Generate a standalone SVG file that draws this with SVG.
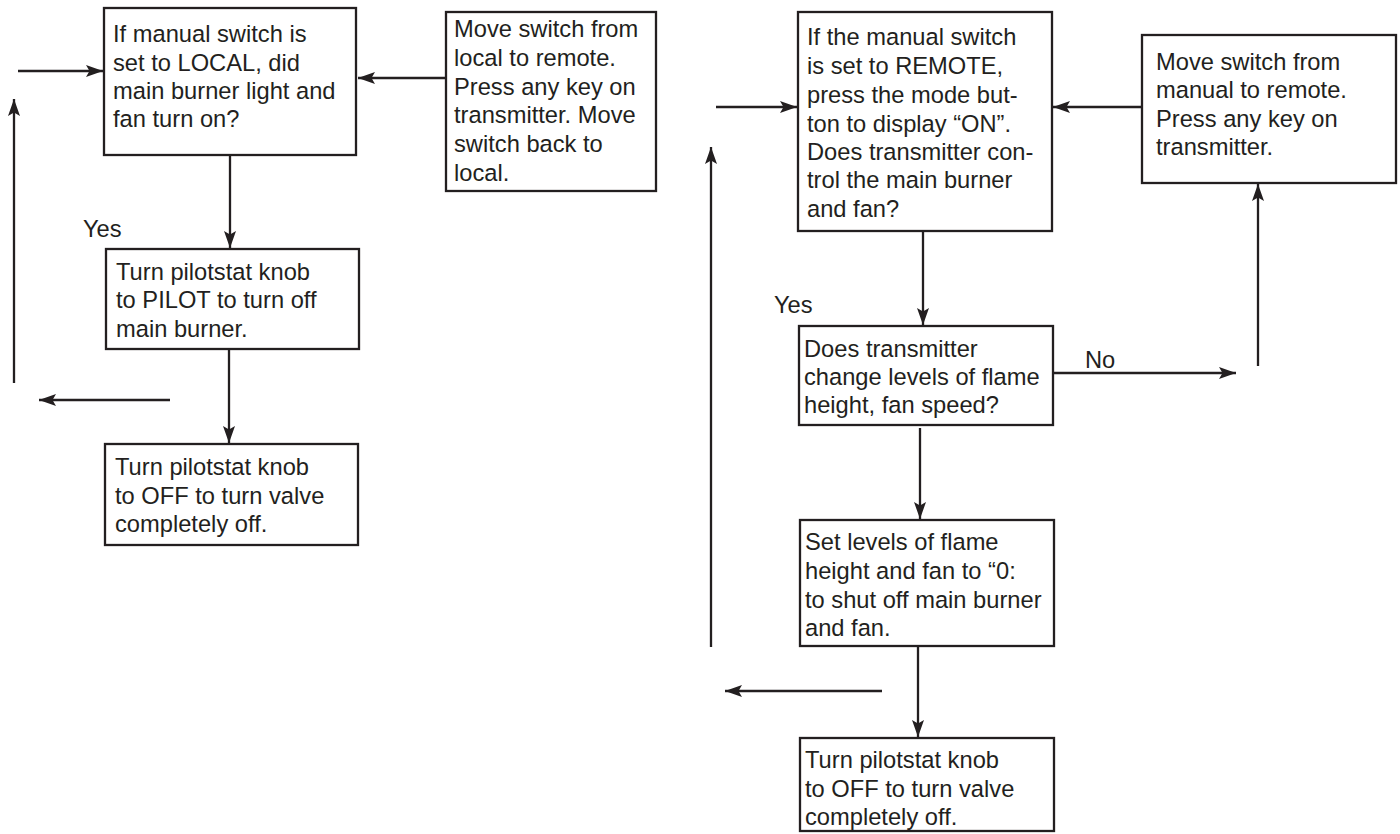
<svg xmlns="http://www.w3.org/2000/svg" width="1400" height="834" viewBox="0 0 1400 834">
<style>
.box{fill:#fff;stroke:#231f20;stroke-width:2.3}
.t{font-family:"Liberation Sans",Arial,sans-serif;font-size:23.7px;fill:#231f20}
.c{stroke:#231f20;stroke-width:2.3;fill:none}
</style>
<defs>
<marker id="ah" viewBox="0 0 17 12" refX="17" refY="6" markerWidth="17" markerHeight="12" markerUnits="userSpaceOnUse" orient="auto">
<path d="M0,0 L17,6 L0,12 L3.5,6 Z" fill="#231f20"/>
</marker>
</defs>
<rect width="1400" height="834" fill="#fff"/>
<g id="connectors">
<line class="c" x1="18" y1="71" x2="103" y2="71" marker-end="url(#ah)"/>
<line class="c" x1="445" y1="78" x2="358" y2="78" marker-end="url(#ah)"/>
<line class="c" x1="14" y1="383" x2="14" y2="99" marker-end="url(#ah)"/>
<line class="c" x1="230" y1="155" x2="230" y2="248" marker-end="url(#ah)"/>
<line class="c" x1="229" y1="349" x2="229" y2="443" marker-end="url(#ah)"/>
<line class="c" x1="170" y1="400" x2="39" y2="400" marker-end="url(#ah)"/>
<line class="c" x1="716" y1="107" x2="797" y2="107" marker-end="url(#ah)"/>
<line class="c" x1="1142" y1="107" x2="1053" y2="107" marker-end="url(#ah)"/>
<line class="c" x1="711" y1="647" x2="711" y2="147" marker-end="url(#ah)"/>
<line class="c" x1="923" y1="231" x2="923" y2="325" marker-end="url(#ah)"/>
<line class="c" x1="1054" y1="373" x2="1236" y2="373" marker-end="url(#ah)"/>
<line class="c" x1="1258" y1="366" x2="1258" y2="184" marker-end="url(#ah)"/>
<line class="c" x1="920" y1="428" x2="920" y2="519" marker-end="url(#ah)"/>
<line class="c" x1="882" y1="691" x2="725" y2="691" marker-end="url(#ah)"/>
<line class="c" x1="918" y1="646" x2="918" y2="737" marker-end="url(#ah)"/>
<text class="t" x="83" y="237">Yes</text>
<text class="t" x="774" y="313">Yes</text>
<text class="t" x="1085" y="368">No</text>
</g>
<g id="nodeA">
<rect class="box" x="104" y="8" width="252" height="147"/>
<text class="t" x="113" y="42">If manual switch is</text>
<text class="t" x="113" y="71">set to LOCAL, did</text>
<text class="t" x="113" y="99">main burner light and</text>
<text class="t" x="113" y="127">fan turn on?</text>
</g>
<g id="nodeB">
<rect class="box" x="446" y="12" width="210" height="179"/>
<text class="t" x="454" y="37">Move switch from</text>
<text class="t" x="454" y="66">local to remote.</text>
<text class="t" x="454" y="95">Press any key on</text>
<text class="t" x="454" y="123">transmitter. Move</text>
<text class="t" x="454" y="152">switch back to</text>
<text class="t" x="454" y="181">local.</text>
</g>
<g id="nodeC">
<rect class="box" x="106" y="249" width="253" height="100"/>
<text class="t" x="116" y="280">Turn pilotstat knob</text>
<text class="t" x="116" y="308">to PILOT to turn off</text>
<text class="t" x="116" y="337">main burner.</text>
</g>
<g id="nodeD">
<rect class="box" x="105" y="444" width="253" height="101"/>
<text class="t" x="115" y="475">Turn pilotstat knob</text>
<text class="t" x="115" y="504">to OFF to turn valve</text>
<text class="t" x="115" y="532">completely off.</text>
</g>
<g id="nodeE">
<rect class="box" x="798" y="12" width="254" height="219"/>
<text class="t" x="807" y="45">If the manual switch</text>
<text class="t" x="807" y="74">is set to REMOTE,</text>
<text class="t" x="807" y="103">press the mode but-</text>
<text class="t" x="807" y="132">ton to display “ON”.</text>
<text class="t" x="807" y="160">Does transmitter con-</text>
<text class="t" x="807" y="188">trol the main burner</text>
<text class="t" x="807" y="217">and fan?</text>
</g>
<g id="nodeF">
<rect class="box" x="1142" y="35" width="254" height="148"/>
<text class="t" x="1156" y="70">Move switch from</text>
<text class="t" x="1156" y="98">manual to remote.</text>
<text class="t" x="1156" y="127">Press any key on</text>
<text class="t" x="1156" y="155">transmitter.</text>
</g>
<g id="nodeG">
<rect class="box" x="799" y="326" width="254" height="99"/>
<text class="t" x="804" y="357">Does transmitter</text>
<text class="t" x="804" y="385">change levels of flame</text>
<text class="t" x="804" y="413">height, fan speed?</text>
</g>
<g id="nodeH">
<rect class="box" x="800" y="520" width="254" height="126"/>
<text class="t" x="805" y="550">Set levels of flame</text>
<text class="t" x="805" y="579">height and fan to “0:</text>
<text class="t" x="805" y="608">to shut off main burner</text>
<text class="t" x="805" y="636">and fan.</text>
</g>
<g id="nodeI">
<rect class="box" x="800" y="738" width="254" height="93"/>
<text class="t" x="805" y="768">Turn pilotstat knob</text>
<text class="t" x="805" y="797">to OFF to turn valve</text>
<text class="t" x="805" y="825">completely off.</text>
</g>
</svg>
